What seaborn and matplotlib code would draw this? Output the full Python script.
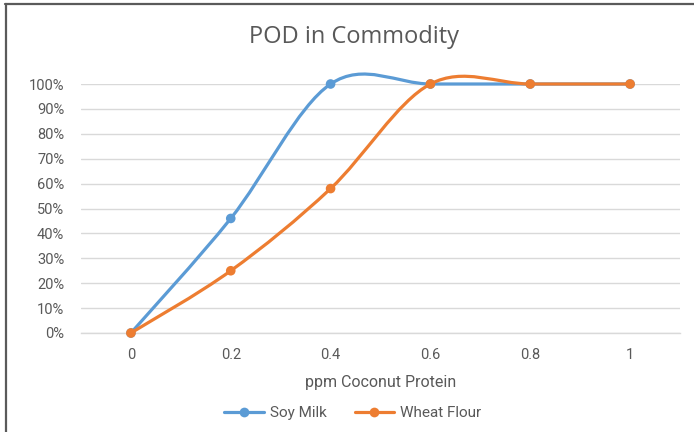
import numpy as np
import pandas as pd
import seaborn as sns
import matplotlib.pyplot as plt
from matplotlib.path import Path
from matplotlib.patches import PathPatch
from matplotlib.lines import Line2D

# ---- data ----
ppm = [0, 0.2, 0.4, 0.6, 0.8, 1.0]
soy_milk = [0.0, 0.46, 1.0, 1.0, 1.0, 1.0]
wheat_flour = [0.0, 0.25, 0.58, 1.0, 1.0, 1.0]
series_names = ["Soy Milk", "Wheat Flour"]
series_colors = ["#5B9BD5", "#ED7D31"]
x_ticks = [0, 0.2, 0.4, 0.6, 0.8, 1.0]
x_tick_labels = ["0", "0.2", "0.4", "0.6", "0.8", "1"]
y_ticks = [0.0, 0.1, 0.2, 0.3, 0.4, 0.5, 0.6, 0.7, 0.8, 0.9, 1.0]
y_tick_labels = ["0%", "10%", "20%", "30%", "40%", "50%", "60%", "70%", "80%", "90%", "100%"]
title = "POD in Commodity"
x_label = "ppm Coconut Protein"

sns.set_theme(style="white")
plt.rcParams["font.family"] = ["Roboto", "DejaVu Sans"]
text_col = "#595959"
grid_col = "#D9D9D9"

df = pd.DataFrame({
    "ppm": ppm * 2,
    "pod": soy_milk + wheat_flour,
    "series": [series_names[0]] * len(ppm) + [series_names[1]] * len(ppm),
})

fig = plt.figure(figsize=(6.94, 4.32), dpi=100)
W, H = 694, 432
ax = fig.add_axes([81 / W, 1 - 333 / H, (680 - 81) / W, (333 - 84) / H])


def smooth_path(xs, ys):
    pts = np.column_stack([xs, ys]).astype(float)
    n = len(pts)
    verts = [pts[0]]
    codes = [Path.MOVETO]
    for i in range(n - 1):
        p0 = pts[i - 1] if i > 0 else pts[i]
        p1 = pts[i]
        p2 = pts[i + 1]
        p3 = pts[i + 2] if i + 2 < n else pts[i + 1]
        c1 = p1 + (p2 - p0) / 6.0
        c2 = p2 - (p3 - p1) / 6.0
        verts += [c1, c2, p2]
        codes += [Path.CURVE4] * 3
    return Path(verts, codes)


for k, name in enumerate(series_names):
    sub = df[df["series"] == name]
    patch = PathPatch(smooth_path(sub["ppm"].values, sub["pod"].values),
                      facecolor="none", edgecolor=series_colors[k], lw=2.3,
                      capstyle="round", joinstyle="round", zorder=3 + 2 * k,
                      clip_on=False)
    ax.add_patch(patch)
    sns.scatterplot(data=sub, x="ppm", y="pod", color=series_colors[k], s=48,
                    edgecolor="none", ax=ax, zorder=4 + 2 * k, clip_on=False,
                    legend=False)

ax.set_xlim(-0.1, 1.1)
ax.set_ylim(0, 1.0)
ax.set_xticks(x_ticks)
ax.set_xticklabels(x_tick_labels)
ax.set_yticks(y_ticks)
ax.set_yticklabels(y_tick_labels)
ax.tick_params(axis="both", length=0, labelsize=10.5, labelcolor=text_col)
ax.tick_params(axis="y", pad=12)
ax.tick_params(axis="x", pad=11)
ax.grid(axis="y", color=grid_col, lw=1)
ax.set_axisbelow(True)
for s in ["top", "right", "left"]:
    ax.spines[s].set_visible(False)
ax.spines["bottom"].set_color(grid_col)
ax.spines["bottom"].set_linewidth(1)
ax.set_xlabel(x_label, fontsize=11.5, color=text_col, labelpad=9)
ax.set_ylabel("")

fig.text(354 / W, 1 - 37 / H, title, ha="center", va="center", fontsize=17,
         color=text_col, family=["Open Sans", "DejaVu Sans"])

handles = [Line2D([0], [0], color=c, lw=2.3, marker="o", markersize=7,
                  markeredgewidth=0) for c in series_colors]
fig.legend(handles, series_names, loc="center", bbox_to_anchor=(353 / W, 1 - 413 / H),
           ncol=2, frameon=False, fontsize=11, labelcolor=text_col,
           handlelength=2.6, columnspacing=1.8, handletextpad=0.4)

# chart frame (top and left edges visible)
fig.add_artist(Line2D([5 / W, 1], [1 - 4 / H, 1 - 4 / H], color="#5a5a5a", lw=1.6,
                      transform=fig.transFigure))
fig.add_artist(Line2D([6 / W, 6 / W], [0, 1 - 4 / H], color="#5a5a5a", lw=1.6,
                      transform=fig.transFigure))

fig.savefig("out.png", dpi=100)
